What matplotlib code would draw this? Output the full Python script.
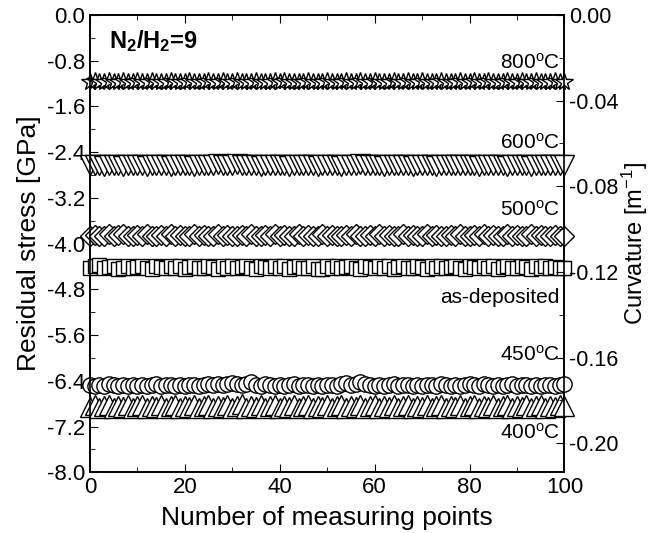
import numpy as np
import matplotlib
matplotlib.use("Agg")
from matplotlib import pyplot as plt
from matplotlib.ticker import MultipleLocator, FuncFormatter

plt.rcParams['font.family'] = ['Liberation Sans', 'DejaVu Sans']
plt.rcParams['mathtext.fontset'] = 'custom'
plt.rcParams['mathtext.rm'] = 'Liberation Sans'
plt.rcParams['mathtext.it'] = 'Liberation Sans:italic'
plt.rcParams['mathtext.bf'] = 'Liberation Sans:bold'

points = np.arange(0, 101)

# residual stress [GPa], one value per measuring point
stress_800 = [-1.17, -1.16, -1.18, -1.17, -1.16, -1.17, -1.18, -1.16, -1.17, -1.17,
              -1.16, -1.18, -1.17, -1.16, -1.17, -1.18, -1.17, -1.16, -1.17, -1.18,
              -1.17, -1.16, -1.17, -1.17, -1.18, -1.16, -1.17, -1.17, -1.16, -1.18,
              -1.17, -1.16, -1.17, -1.18, -1.17, -1.16, -1.17, -1.17, -1.18, -1.16,
              -1.17, -1.16, -1.17, -1.18, -1.17, -1.17, -1.16, -1.17, -1.18, -1.17,
              -1.16, -1.17, -1.17, -1.18, -1.16, -1.17, -1.17, -1.16, -1.18, -1.17,
              -1.16, -1.17, -1.17, -1.18, -1.16, -1.17, -1.17, -1.16, -1.18, -1.17,
              -1.16, -1.17, -1.18, -1.17, -1.16, -1.17, -1.17, -1.18, -1.16, -1.17,
              -1.17, -1.16, -1.18, -1.17, -1.16, -1.17, -1.17, -1.18, -1.16, -1.17,
              -1.17, -1.16, -1.18, -1.17, -1.16, -1.17, -1.17, -1.18, -1.16, -1.17,
              -1.17]
stress_600 = [-2.62, -2.63, -2.62, -2.64, -2.63, -2.62, -2.63, -2.64, -2.62, -2.63,
              -2.63, -2.62, -2.64, -2.63, -2.62, -2.63, -2.63, -2.64, -2.62, -2.63,
              -2.62, -2.63, -2.64, -2.63, -2.62, -2.63, -2.62, -2.61, -2.62, -2.63,
              -2.62, -2.61, -2.62, -2.63, -2.62, -2.63, -2.64, -2.63, -2.62, -2.63,
              -2.62, -2.63, -2.64, -2.63, -2.62, -2.63, -2.63, -2.62, -2.64, -2.63,
              -2.62, -2.63, -2.63, -2.64, -2.62, -2.63, -2.62, -2.61, -2.62, -2.63,
              -2.62, -2.63, -2.64, -2.63, -2.62, -2.63, -2.63, -2.62, -2.64, -2.63,
              -2.62, -2.63, -2.63, -2.64, -2.62, -2.63, -2.62, -2.63, -2.62, -2.63,
              -2.62, -2.63, -2.64, -2.63, -2.62, -2.63, -2.63, -2.62, -2.64, -2.63,
              -2.62, -2.63, -2.63, -2.64, -2.62, -2.63, -2.62, -2.63, -2.62, -2.63,
              -2.63]
stress_500 = [-3.86, -3.85, -3.87, -3.86, -3.84, -3.86, -3.85, -3.83, -3.86, -3.87,
              -3.85, -3.86, -3.84, -3.86, -3.87, -3.85, -3.86, -3.84, -3.86, -3.85,
              -3.87, -3.86, -3.84, -3.86, -3.85, -3.87, -3.86, -3.84, -3.86, -3.85,
              -3.86, -3.87, -3.85, -3.86, -3.84, -3.86, -3.87, -3.85, -3.86, -3.84,
              -3.86, -3.85, -3.87, -3.86, -3.84, -3.86, -3.85, -3.87, -3.86, -3.84,
              -3.86, -3.85, -3.86, -3.87, -3.85, -3.86, -3.84, -3.86, -3.87, -3.85,
              -3.86, -3.84, -3.86, -3.85, -3.87, -3.86, -3.84, -3.86, -3.85, -3.87,
              -3.86, -3.84, -3.86, -3.85, -3.86, -3.87, -3.85, -3.86, -3.84, -3.86,
              -3.87, -3.85, -3.86, -3.84, -3.86, -3.85, -3.87, -3.86, -3.84, -3.86,
              -3.85, -3.87, -3.86, -3.84, -3.86, -3.85, -3.86, -3.87, -3.85, -3.86,
              -3.86]
stress_asdep = [-4.42, -4.40, -4.38, -4.43, -4.41, -4.39, -4.44, -4.42, -4.40, -4.43,
                -4.41, -4.39, -4.42, -4.44, -4.40, -4.41, -4.43, -4.39, -4.42, -4.40,
                -4.44, -4.41, -4.39, -4.42, -4.43, -4.40, -4.41, -4.44, -4.39, -4.42,
                -4.40, -4.43, -4.41, -4.39, -4.42, -4.44, -4.40, -4.41, -4.43, -4.39,
                -4.42, -4.40, -4.44, -4.41, -4.39, -4.42, -4.43, -4.40, -4.45, -4.44,
                -4.39, -4.42, -4.40, -4.43, -4.41, -4.39, -4.42, -4.44, -4.40, -4.41,
                -4.43, -4.39, -4.42, -4.40, -4.44, -4.41, -4.39, -4.42, -4.43, -4.40,
                -4.41, -4.44, -4.39, -4.42, -4.40, -4.43, -4.41, -4.39, -4.42, -4.44,
                -4.40, -4.41, -4.43, -4.39, -4.42, -4.40, -4.44, -4.41, -4.39, -4.42,
                -4.43, -4.40, -4.41, -4.44, -4.39, -4.42, -4.40, -4.43, -4.41, -4.42,
                -4.42]
stress_450 = [-6.48, -6.50, -6.47, -6.49, -6.46, -6.48, -6.50, -6.47, -6.49, -6.48,
              -6.50, -6.47, -6.49, -6.48, -6.46, -6.49, -6.47, -6.48, -6.50, -6.47,
              -6.49, -6.48, -6.47, -6.49, -6.48, -6.46, -6.47, -6.45, -6.47, -6.46,
              -6.44, -6.46, -6.48, -6.45, -6.43, -6.47, -6.49, -6.46, -6.48, -6.50,
              -6.47, -6.49, -6.48, -6.46, -6.49, -6.47, -6.48, -6.50, -6.47, -6.49,
              -6.48, -6.47, -6.49, -6.46, -6.44, -6.47, -6.45, -6.43, -6.46, -6.48,
              -6.50, -6.47, -6.49, -6.48, -6.46, -6.49, -6.47, -6.48, -6.50, -6.47,
              -6.49, -6.48, -6.47, -6.49, -6.46, -6.48, -6.50, -6.47, -6.49, -6.48,
              -6.45, -6.47, -6.49, -6.46, -6.48, -6.50, -6.47, -6.49, -6.48, -6.46,
              -6.49, -6.47, -6.48, -6.50, -6.47, -6.49, -6.48, -6.47, -6.49, -6.48,
              -6.46]
stress_400 = [-6.86, -6.83, -6.88, -6.85, -6.82, -6.87, -6.84, -6.86, -6.83, -6.88,
              -6.85, -6.82, -6.87, -6.84, -6.86, -6.83, -6.88, -6.85, -6.82, -6.87,
              -6.84, -6.86, -6.83, -6.88, -6.85, -6.82, -6.87, -6.84, -6.86, -6.83,
              -6.88, -6.85, -6.80, -6.87, -6.84, -6.86, -6.82, -6.88, -6.85, -6.83,
              -6.87, -6.84, -6.86, -6.83, -6.88, -6.85, -6.82, -6.87, -6.84, -6.86,
              -6.83, -6.88, -6.85, -6.82, -6.87, -6.84, -6.86, -6.83, -6.88, -6.85,
              -6.82, -6.87, -6.84, -6.86, -6.83, -6.88, -6.85, -6.82, -6.87, -6.84,
              -6.86, -6.83, -6.88, -6.85, -6.82, -6.87, -6.84, -6.86, -6.83, -6.88,
              -6.85, -6.82, -6.87, -6.84, -6.86, -6.83, -6.88, -6.85, -6.82, -6.87,
              -6.84, -6.86, -6.83, -6.88, -6.85, -6.82, -6.87, -6.84, -6.86, -6.83,
              -6.85]

deg = r"$^{\mathrm{o}}$C"
series = [
    (stress_800, "*", 13, "800" + deg, -0.84),
    (stress_600, "v", 14, "600" + deg, -2.24),
    (stress_500, "D", 10, "500" + deg, -3.41),
    (stress_asdep, "s", 9.5, "as-deposited", -4.94),
    (stress_450, "o", 11, "450" + deg, -5.95),
    (stress_400, "^", 14, "400" + deg, -7.30),
]

fig = plt.figure(figsize=(6.51, 5.33), dpi=100)
ax = fig.add_axes([0.138, 0.114, 0.729, 0.858])

for vals, mk, ms, lab, ly in series:
    ax.plot(points, vals, linestyle="none", marker=mk, markersize=ms,
            markerfacecolor="white", markeredgecolor="black",
            markeredgewidth=1.0, clip_on=False, zorder=3)
    ax.text(99, ly, lab, ha="right", va="center", fontsize=15)

ax.text(4, -0.45, r"$\mathbf{N_2/H_2}$=9", fontsize=17, fontweight="bold",
        va="center", ha="left")

ax.set_xlim(0, 100)
ax.set_ylim(-8.0, 0.0)
ax.xaxis.set_major_locator(MultipleLocator(20))
ax.xaxis.set_minor_locator(MultipleLocator(10))
ax.yaxis.set_major_locator(MultipleLocator(0.8))
ax.yaxis.set_minor_locator(MultipleLocator(0.4))
ax.yaxis.set_major_formatter(FuncFormatter(lambda v, p: "%.1f" % (0.0 if abs(v) < 1e-9 else v)))
ax.tick_params(which="both", direction="in", top=True, labelsize=16)
ax.tick_params(which="major", length=6)
ax.tick_params(which="minor", length=3.5)
ax.set_xlabel("Number of measuring points", fontsize=19, labelpad=6)
ax.set_ylabel("Residual stress [GPa]", fontsize=19, labelpad=4)

ax2 = ax.twinx()
ax2.set_ylim(-0.2135, 0.0)
ax2.yaxis.set_major_locator(MultipleLocator(0.04))
ax2.yaxis.set_minor_locator(MultipleLocator(0.02))
ax2.yaxis.set_major_formatter(FuncFormatter(lambda v, p: "%.2f" % (0.0 if abs(v) < 1e-9 else v)))
ax2.tick_params(which="both", direction="in", labelsize=15.5)
ax2.tick_params(which="major", length=6)
ax2.tick_params(which="minor", length=3.5)
ax2.set_ylabel(r"Curvature [m$^{-1}$]", fontsize=17, labelpad=1)

for a in (ax, ax2):
    for s in a.spines.values():
        s.set_linewidth(1.2)

fig.savefig("out.png", dpi=100)
